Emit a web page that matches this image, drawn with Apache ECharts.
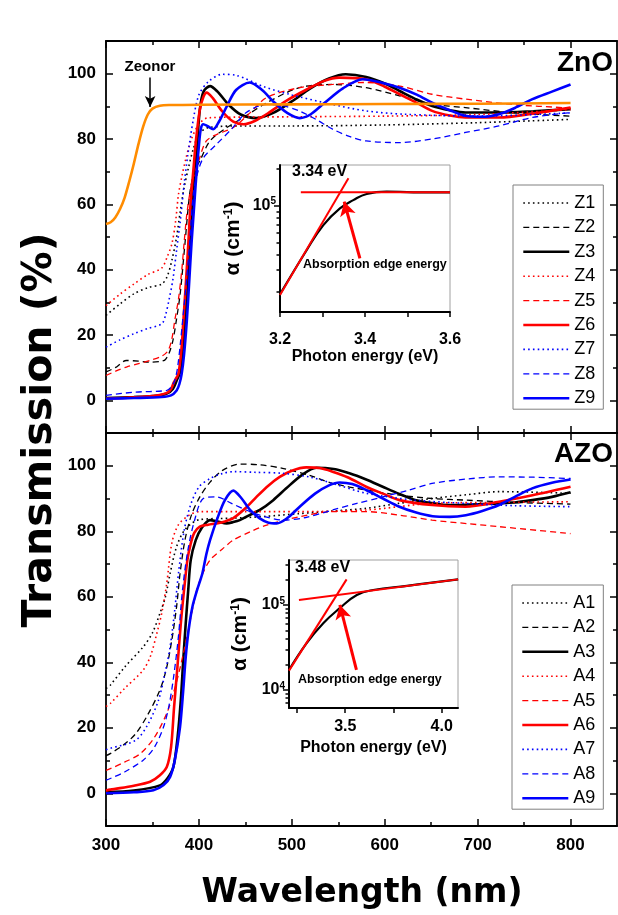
<!DOCTYPE html>
<html><head><meta charset="utf-8">
<script src="https://cdn.jsdelivr.net/npm/echarts@6/dist/echarts.min.js"></script>
<style>html,body{margin:0;padding:0;background:#fff}#c{width:618px;height:915px}</style>
</head><body><div id="c"></div>
<script>
// ---------- tick labels / ticks ----------
const xMajorTicks = [300, 400, 500, 600, 700, 800];
const xMinorTicks = [350, 450, 550, 650, 750];
const yMajorTicks = [0, 20, 40, 60, 80, 100];
const yMinorTicks = [10, 30, 50, 70, 90];
const insetTopXTicks = [3.2, 3.3, 3.4, 3.5, 3.6];
const insetTopXLabels = [3.2, 3.4, 3.6];
const insetTopYMajor = [1e5];
const insetTopYMinor = [2e4, 3e4, 4e4, 5e4, 6e4, 7e4, 8e4, 9e4, 2e5];
const insetBotXTicks = [3.25, 3.5, 3.75, 4.0];
const insetBotXLabels = [3.5, 4.0];
const insetBotYMajor = [1e4, 1e5];
const insetBotYMinor = [7e3, 8e3, 9e3, 2e4, 3e4, 4e4, 5e4, 6e4, 7e4, 8e4, 9e4, 2e5, 3e5];

// ---------- ZnO panel ----------
const Zeonor = [[300,54],[305,54.5],[310,56],[315,58.5],[320,62],[325,67],[330,72.5],[335,78.5],[340,83.8],[345,87.5],[350,89.3],[358,90.2],[370,90.4],[400,90.5],[500,90.6],[600,90.7],[700,90.8],[800,91]];
const Z1 = [[300,26],[315,29.5],[330,32.6],[345,34.5],[360,35.6],[366,38],[371,43],[376,50],[380,58],[384,65],[389,71.5],[394,77],[400,81.5],[410,83.5],[450,84],[500,84],[600,84.3],[700,85],[800,86]];
const Z2 = [[300,8.7],[310,10],[322,12.2],[335,12],[347,11.7],[360,12],[364,12.5],[368,14.5],[372,18.3],[376,25],[380,33],[385,48],[390,63],[395,70],[401,73.3],[412,79.4],[430,83.5],[448,86.6],[473,91.1],[508,95.7],[544,96.7],[580,95.7],[616,93.2],[651,90.7],[687,89.6],[740,88],[800,87]];
const Z3 = [[300,0.7],[330,1],[350,1.3],[365,2],[372,3.5],[376,6],[380,9],[383,16],[386,28],[389,42],[392,56],[395.8,70.3],[398,78],[401,89],[405,94.5],[412,96.2],[420,94.5],[432,90.5],[445,87.5],[462,86.4],[480,88],[500,91.5],[520,95.5],[540,98.5],[558,99.8],[580,99],[600,97],[616,94.7],[635,92],[651,90.1],[670,88.8],[687,88.1],[723,88.1],[760,88.5],[800,89.1]];
const Z4 = [[300,29],[315,32.5],[330,35.6],[345,38.5],[360,40.5],[366,44],[371,48],[375,55],[378,63],[382,69],[386,74],[392,80],[400,84.5],[410,86.5],[500,86.8],[600,87],[700,87.5],[800,89]];
const Z5 = [[300,7.6],[311,9],[322,10.2],[335,11.2],[347,12.2],[360,13.5],[367,15.3],[371,19],[374,24.4],[378,31],[381.5,39.7],[384,48],[387,57],[392,66],[400,73.5],[408,79.4],[420,81.5],[437,83.5],[455,88],[473,92.7],[508,95.7],[544,96.7],[580,97.3],[616,96.2],[651,93.7],[687,92.2],[740,90.5],[800,89.5]];
const Z6 = [[300,0.5],[330,0.9],[350,1.3],[365,2.2],[370,3.5],[373,5.5],[376,7],[378,8.2],[381,15],[383.3,24.4],[386,36],[388.6,48],[391,60],[394,70.3],[397,80],[401,89],[405,93],[408.3,94.2],[415,92.5],[425,88.5],[437,85.3],[448,84.5],[460,85.5],[475,88],[494,91.7],[515,95],[535,97.8],[551,98.8],[580,98.3],[600,96],[616,93.7],[635,91],[651,88.6],[670,87.2],[687,86.6],[723,86.6],[760,87.8],[800,89.6]];
const Z7 = [[300,16.3],[315,18.5],[330,20.4],[345,22],[360,23.4],[364,26],[368,31],[372,37],[376,46],[380,55],[384,66],[388,75],[394,86],[400,93.5],[410,97.5],[425,99.8],[440,99.5],[470,96],[500,93.5],[540,90.8],[580,88.6],[620,87.6],[700,87],[800,88]];
const Z8 = [[300,1.5],[330,2.5],[365,3],[370,4],[374,6.1],[377,10],[380,17.3],[383,26],[387,37.7],[390,48],[394,63.2],[399,70],[405,74.3],[419,78.4],[435,83],[451,88.1],[473,90.6],[490,90.2],[508,88.6],[526,86],[544,83],[562,80.8],[580,79.4],[616,78.9],[651,80],[687,82],[723,84],[759,86.6],[800,88.1]];
const Z9 = [[300,0.5],[330,0.7],[360,1],[370,1.5],[376,3],[379,5],[381.5,8.2],[384,14],[387,24.4],[389.5,36],[392,47.9],[395,60],[397.6,70.3],[400,78],[402,83],[404.7,84.5],[409,84],[415.4,83],[422,85.5],[430,90],[440,95],[454.8,97.3],[468,95],[480,91.5],[495,88],[508.5,86.4],[520,87.5],[535,91],[555,95.5],[576.4,98.3],[600,97],[616,95.7],[635,93.5],[651,91.1],[670,88.8],[687,87.1],[705,86.8],[723,87.6],[740,89.5],[759,92.2],[780,94.5],[800,96.7]];

// ---------- AZO panel ----------
const A1 = [[300,32],[304.6,33],[320,38.5],[340,44.7],[350,49],[358,54.9],[364,60],[369,67.1],[376,75.3],[385,80.5],[400,83.5],[437,84],[470,84.5],[508,85.4],[545,86.2],[580,87],[615,88.5],[651,90],[690,91.2],[723,92.1],[800,91.6]];
const A2 = [[300,11.5],[304.6,12.1],[320,15],[332,18.2],[345,24],[358,31.5],[365,38],[370.8,46.7],[376,57],[379.7,67.1],[385,77.3],[392,85],[401,90.5],[412,95],[425,98.5],[444,100.5],[465,100.3],[490,99.2],[520,97],[544,94.6],[580,92.6],[616,91],[651,90],[687,89.5],[740,88.8],[800,88.3]];
const A3 = [[300,0.3],[330,0.8],[358,2.4],[366,4.5],[372.5,8],[377,17],[380.5,28.4],[383,40],[385.8,51.8],[388.5,62],[391.2,71.2],[396.6,77.3],[403,81],[411.9,83.4],[420,83],[429.8,82.4],[437,82.8],[444,83.4],[455,85],[465.6,86.5],[480,89.5],[494,93.1],[510,97],[526.3,99.4],[545,99],[562,97.7],[580,95.8],[597.8,93.6],[615,91.5],[633.5,89.5],[651,88.6],[669.3,88],[705,88.3],[740,88.8],[758.8,89.5],[780,90.5],[800,91.9]];
const A4 = [[300,26.5],[304.6,27.4],[320,32],[340,37.6],[348,42],[354.7,48.8],[360,55],[365.4,64.1],[370.8,76.3],[378,82],[390,85],[401,86],[450,86],[508,86],[580,86.5],[651,88.5],[720,88.8],[800,89]];
const A5 = [[300,7],[304.6,7.5],[320,9.5],[337,12.1],[352,17],[365.4,24.4],[373,31],[380,38.6],[388,49],[397.6,62],[404,67],[412,71.2],[425,74.5],[437,77.3],[455,79.8],[473,81.9],[508,84.4],[544,86],[580,86],[616,84.9],[651,83.4],[690,82.3],[723,81.4],[800,79.3]];
const A6 = [[300,0.8],[304.6,1.1],[330,2.3],[347.5,3.5],[358,5.5],[365.4,8],[370,14],[373.3,26.4],[377,39],[380.5,51.8],[384,62],[387.6,71.2],[391,76],[395,79.5],[401,81.4],[410,82],[419,82.4],[428,83],[437,84],[450,87],[462,90.5],[475,94],[487,96.6],[500,98.5],[515.6,99.5],[530,99.3],[543.8,98.2],[560,96.5],[580,93.6],[598,91.5],[616,89.5],[651,88],[687,87.5],[723,89],[759,91],[800,93.6]];
const A7 = [[300,13.3],[304.6,13.7],[332,16.2],[345,21],[356.5,28.4],[363,36],[369,44.7],[374,56],[378,67.1],[384,80],[391,88],[400,93.5],[412,96.1],[425,97.6],[437,98.2],[460,98],[490,97.7],[520,96.5],[544,94.6],[580,91.6],[633,89.5],[687,88.5],[740,87.8],[800,87.5]];
const A8 = [[300,4],[304.6,4.5],[320,6.5],[340,10.1],[352,14],[362,20.3],[368,27],[373.3,36.6],[378,48],[382.3,62],[388,74],[395,83],[404.7,90],[419,90.5],[435,88.5],[455,86],[473,84.3],[490,83.4],[515,84.2],[544,86.5],[570,88.5],[598,90.5],[625,92.5],[651,94.6],[690,96],[723,96.6],[760,96.5],[800,96.1]];
const A9 = [[300,0],[330,0.3],[351,0.9],[362,2.5],[369,5],[374,10],[379.7,20.3],[383,31],[385.8,41.6],[389,50],[393,56.9],[398,62],[403.7,67.1],[408,73],[412,77.3],[420,84],[428,89.5],[437,92.4],[446,90],[455,86.5],[465,84],[475,82.6],[483.7,82.4],[495,84],[508.5,87.5],[525,91.5],[540,94],[551.5,94.9],[565,94.4],[580,92.6],[598,90],[615.8,87.5],[633,85.8],[651.5,84.6],[670,84.4],[687.3,84.9],[705,86.2],[723,88],[740,90.5],[758.8,93.1],[780,94.8],[800,95.8]];

// ---------- insets (photon energy eV, alpha cm^-1) ----------
const insetTopCurve = [[3.2,1.91e4],[3.263,4.37e4],[3.302,6.96e4],[3.341,9.5e4],[3.3725,1.11e5],[3.404,1.245e5],[3.451,1.30e5],[3.514,1.285e5],[3.6,1.285e5]];
const insetTopFitSteep = [[3.2,1.88e4],[3.361,1.67e5]];
const insetTopFitFlat = [[3.249,1.285e5],[3.6,1.285e5]];
const insetTopArrow = [[3.388,3.73e4],[3.351,1.078e5]];
const insetBotCurve = [[3.2085,1.72e4],[3.30,3.56e4],[3.386,6.1e4],[3.47,9.1e4],[3.56,1.31e5],[3.645,1.5e5],[3.82,1.68e5],[4.085,2.0e5]];
const insetBotFitSteep = [[3.2085,1.69e4],[3.507,2.0e5]];
const insetBotFitFlat = [[3.26,1.145e5],[4.085,2.0e5]];
const insetBotArrow = [[3.558,1.72e4],[3.472,1.0e5]];
const zeonorArrow = [[347.5,98.8],[347.5,89.8]];

// ---------- styling ----------
const FONT = 'Liberation Sans';
const BLACK = '#000000', RED = '#ff0000', BLUE = '#0000ff', ORANGE = '#ff8c00';
const DOT = [1.6, 3.2], DASH = [6, 4];
const AXL = {color: '#000', width: 1.8};
const TKL = {color: '#000', width: 1.5};

function mainX(gi, pos, ticks, len, labels, line) {
  return {gridIndex: gi, type: 'value', position: pos, min: 300, max: 850,
    axisLine: {show: line, onZero: false, lineStyle: AXL},
    axisTick: {show: true, inside: true, length: len, customValues: ticks, lineStyle: TKL},
    axisLabel: labels ? {show: true, customValues: labels, margin: 11, color: '#000', fontFamily: FONT, fontWeight: 'bold', fontSize: 17} : {show: false},
    splitLine: {show: false}};
}
function mainY(gi, pos, ticks, len, labels, line) {
  return {gridIndex: gi, type: 'value', position: pos, min: -10, max: 110,
    axisLine: {show: line, onZero: false, lineStyle: AXL},
    axisTick: {show: true, inside: true, length: len, customValues: ticks, lineStyle: TKL},
    axisLabel: labels ? {show: true, customValues: labels, margin: 10, color: '#000', fontFamily: FONT, fontWeight: 'bold', fontSize: 17} : {show: false},
    splitLine: {show: false}};
}
const supRich = {
  b: {fontFamily: FONT, fontWeight: 'bold', fontSize: 16, color: '#000'},
  s: {fontFamily: FONT, fontWeight: 'bold', fontSize: 10, color: '#000', verticalAlign: 'top', padding: [0, 0, 8, 0]}
};
function logFmt(v) { return '{b|10}{s|' + Math.round(Math.log10(v)) + '}'; }
function insetX(gi, min, max, ticks, labels, margin, gap) {
  return {gridIndex: gi, type: 'value', position: 'bottom', min: min, max: max,
    axisLine: {onZero: false, lineStyle: {color: '#000', width: 2}},
    axisTick: {inside: false, length: 5, customValues: ticks, lineStyle: TKL},
    axisLabel: {customValues: labels, formatter: v => v.toFixed(1), margin: margin, color: '#000', fontFamily: FONT, fontWeight: 'bold', fontSize: 16},
    splitLine: {show: false},
    name: 'Photon energy (eV)', nameLocation: 'middle', nameGap: gap,
    nameTextStyle: {color: '#000', fontFamily: FONT, fontWeight: 'bold', fontSize: 16}};
}
function insetYMajor(gi, min, max, ticks, gap) {
  return {gridIndex: gi, type: 'log', logBase: 10, position: 'left', min: min, max: max,
    axisLine: {onZero: false, lineStyle: {color: '#000', width: 2}},
    axisTick: {inside: false, length: 6, customValues: ticks, lineStyle: TKL},
    axisLabel: {customValues: ticks, formatter: logFmt, rich: supRich, margin: 4},
    splitLine: {show: false},
    name: '{a|α (cm}{s|-1}{a|)}', nameLocation: 'middle', nameGap: gap, nameRotate: 90,
    nameTextStyle: {rich: {
      a: {fontFamily: FONT, fontWeight: 'bold', fontSize: 21, color: '#000'},
      s: {fontFamily: FONT, fontWeight: 'bold', fontSize: 12, color: '#000', verticalAlign: 'top', padding: [0, 0, 9, 0]}}}};
}
function insetYMinor(gi, min, max, ticks) {
  return {gridIndex: gi, type: 'log', logBase: 10, position: 'left', min: min, max: max,
    axisLine: {show: false, onZero: false},
    axisTick: {inside: false, length: 3.5, customValues: ticks, lineStyle: TKL},
    axisLabel: {show: false}, splitLine: {show: false}};
}

function ln(name, data, color, type, width, xi, yi, extra) {
  return Object.assign({name: name, type: 'line', data: data, xAxisIndex: xi, yAxisIndex: yi,
    symbol: 'none', showSymbol: false, smooth: 0.3, silent: true,
    lineStyle: {color: color, width: width, type: type, cap: 'butt'}, itemStyle: {color: color}}, extra || {});
}
function arrowLine(pts, color, width, size) {
  return {silent: true, symbol: ['none', 'arrow'], symbolSize: size, label: {show: false},
    lineStyle: {color: color, width: width, type: 'solid'},
    data: [[{coord: pts[0]}, {coord: pts[1]}]]};
}

const series = [
  ln('Z1', Z1, BLACK, DOT, 1.6, 0, 0), ln('Z2', Z2, BLACK, DASH, 1.3, 0, 0), ln('Z3', Z3, BLACK, 'solid', 2.6, 0, 0),
  ln('Z4', Z4, RED, DOT, 1.6, 0, 0), ln('Z5', Z5, RED, DASH, 1.3, 0, 0), ln('Z6', Z6, RED, 'solid', 2.6, 0, 0),
  ln('Z7', Z7, BLUE, DOT, 1.6, 0, 0), ln('Z8', Z8, BLUE, DASH, 1.3, 0, 0), ln('Z9', Z9, BLUE, 'solid', 2.6, 0, 0),
  ln('Zeonor', Zeonor, ORANGE, 'solid', 2.6, 0, 0, {markLine: arrowLine(zeonorArrow, '#000', 1.5, [8, 11])}),
  ln('A1', A1, BLACK, DOT, 1.6, 4, 4), ln('A2', A2, BLACK, DASH, 1.3, 4, 4), ln('A3', A3, BLACK, 'solid', 2.6, 4, 4),
  ln('A4', A4, RED, DOT, 1.6, 4, 4), ln('A5', A5, RED, DASH, 1.3, 4, 4), ln('A6', A6, RED, 'solid', 2.6, 4, 4),
  ln('A7', A7, BLUE, DOT, 1.6, 4, 4), ln('A8', A8, BLUE, DASH, 1.3, 4, 4), ln('A9', A9, BLUE, 'solid', 2.6, 4, 4),
  ln('tc', insetTopCurve, BLACK, 'solid', 2.2, 8, 8, {smooth: 0.45}),
  ln('tf1', insetTopFitSteep, RED, 'solid', 2, 8, 8, {smooth: false}),
  ln('tf2', insetTopFitFlat, RED, 'solid', 2, 8, 8, {smooth: false, markLine: arrowLine(insetTopArrow, RED, 3, [12, 14])}),
  ln('bc', insetBotCurve, BLACK, 'solid', 2.2, 9, 10, {smooth: 0.45}),
  ln('bf1', insetBotFitSteep, RED, 'solid', 2, 9, 10, {smooth: false}),
  ln('bf2', insetBotFitFlat, RED, 'solid', 2, 9, 10, {smooth: false, markLine: arrowLine(insetBotArrow, RED, 3, [12, 14])})
];

function legendFor(names, left, top) {
  return {data: names, orient: 'vertical', left: left, top: top, itemWidth: 46, itemHeight: 14, itemGap: 6.4,
    padding: [9, 8, 2, 9], borderColor: '#808080', borderWidth: 1, backgroundColor: '#fff', selectedMode: false,
    itemStyle: {opacity: 0}, lineStyle: {width: 'inherit'},
    textStyle: {fontSize: 18, lineHeight: 18, fontFamily: FONT, color: '#000'}};
}

function txt(text, x, y, font, align, color) {
  return {type: 'text', x: x, y: y, silent: true, z: 100,
    style: {text: text, font: font, fill: color || '#000', align: align || 'left', verticalAlign: 'middle'}};
}

const option = {
  animation: false,
  backgroundColor: '#fff',
  grid: [
    {left: 106, top: 41, width: 511, height: 392, show: false},
    {left: 106, top: 433, width: 511, height: 393, show: false},
    {left: 280, top: 165, width: 170, height: 147, show: true, borderColor: '#a0a0a0', borderWidth: 1, backgroundColor: '#fff'},
    {left: 289, top: 560, width: 169, height: 148, show: true, borderColor: '#a0a0a0', borderWidth: 1, backgroundColor: '#fff'}
  ],
  xAxis: [
    mainX(0, 'bottom', xMajorTicks, 7, null, true), mainX(0, 'bottom', xMinorTicks, 4, null, false),
    mainX(0, 'top', xMajorTicks, 7, null, true), mainX(0, 'top', xMinorTicks, 4, null, false),
    mainX(1, 'bottom', xMajorTicks, 7, xMajorTicks, true), mainX(1, 'bottom', xMinorTicks, 4, null, false),
    mainX(1, 'top', xMajorTicks, 7, null, true), mainX(1, 'top', xMinorTicks, 4, null, false),
    insetX(2, 3.2, 3.6, insetTopXTicks, insetTopXLabels, 20, 36),
    insetX(3, 3.2085, 4.0843, insetBotXTicks, insetBotXLabels, 11, 32)
  ],
  yAxis: [
    mainY(0, 'left', yMajorTicks, 7, yMajorTicks, true), mainY(0, 'left', yMinorTicks, 4, null, false),
    mainY(0, 'right', yMajorTicks, 7, null, true), mainY(0, 'right', yMinorTicks, 4, null, false),
    mainY(1, 'left', yMajorTicks, 7, yMajorTicks, true), mainY(1, 'left', yMinorTicks, 4, null, false),
    mainY(1, 'right', yMajorTicks, 7, null, true), mainY(1, 'right', yMinorTicks, 4, null, false),
    insetYMajor(2, 1.37e4, 2.14e5, insetTopYMajor, 36), insetYMinor(2, 1.37e4, 2.14e5, insetTopYMinor),
    insetYMajor(3, 6.14e3, 3.38e5, insetBotYMajor, 38), insetYMinor(3, 6.14e3, 3.38e5, insetBotYMinor)
  ],
  legend: [
    legendFor(['Z1','Z2','Z3','Z4','Z5','Z6','Z7','Z8','Z9'], 513, 185),
    legendFor(['A1','A2','A3','A4','A5','A6','A7','A8','A9'], 512, 585)
  ],
  series: series,
  graphic: [
    {type: 'text', x: 40, y: 430, rotation: Math.PI / 2, silent: true,
      style: {text: 'Transmission (%)', font: 'bold 41px "DejaVu Sans"', fill: '#000', align: 'center', verticalAlign: 'middle'}},
    txt('Wavelength (nm)', 362, 893, 'bold 33px "DejaVu Sans"', 'center'),
    txt('ZnO', 613, 63, 'bold 28px "Liberation Sans"', 'right'),
    txt('AZO', 613, 454, 'bold 28px "Liberation Sans"', 'right'),
    txt('Zeonor', 150, 67, 'bold 15px "Liberation Sans"', 'center'),
    txt('3.34 eV', 292, 172, 'bold 16px "Liberation Sans"', 'left'),
    txt('Absorption edge energy', 303, 265, 'bold 12.5px "Liberation Sans"', 'left'),
    txt('3.48 eV', 295, 568, 'bold 16px "Liberation Sans"', 'left'),
    txt('Absorption edge energy', 298, 680, 'bold 12.5px "Liberation Sans"', 'left')
  ]
};

const chart = echarts.init(document.getElementById('c'), null, {renderer: 'canvas', devicePixelRatio: 1});
chart.setOption(option);
</script>
</body></html>
